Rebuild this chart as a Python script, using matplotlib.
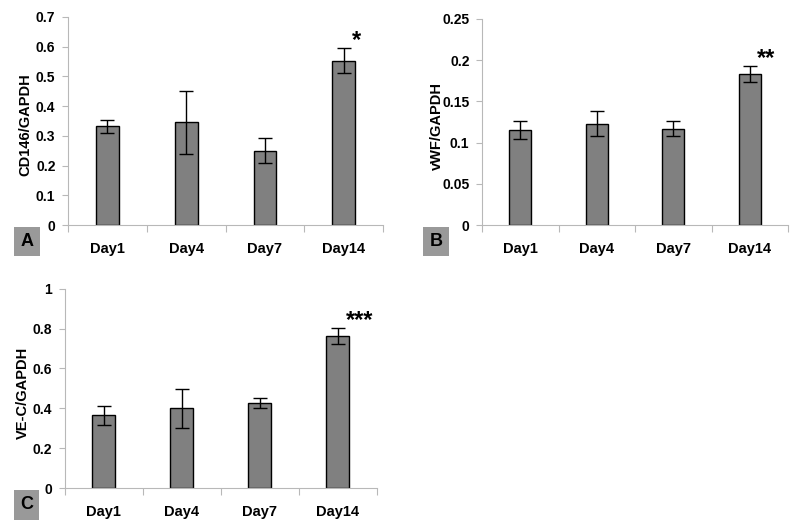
import matplotlib
matplotlib.use("Agg")
import matplotlib.pyplot as plt
import numpy as np

days = ["Day1", "Day4", "Day7", "Day14"]

cd146 = [0.332, 0.345, 0.250, 0.553]
cd146_err = [0.022, 0.105, 0.042, 0.043]

vwf = [0.115, 0.123, 0.117, 0.183]
vwf_err = [0.011, 0.015, 0.0095, 0.010]

vec = [0.365, 0.400, 0.426, 0.765]
vec_err = [0.047, 0.097, 0.026, 0.040]

stars = ["*", "**", "***"]
panel_letters = ["A", "B", "C"]
ylabels = ["CD146/GAPDH", "vWF/GAPDH", "VE-C/GAPDH"]

plt.rcParams['font.family'] = ['Liberation Sans', 'DejaVu Sans']
plt.rcParams['font.weight'] = 'bold'

fig = plt.figure(figsize=(8, 5.27), dpi=100)

specs = [
    dict(rect=[0.085, 0.573, 0.394, 0.395], vals=cd146, err=cd146_err, ymax=0.7, step=0.1,
         labx=-0.114, letter_xy=(0.0335, 0.542)),
    dict(rect=[0.6025, 0.573, 0.3825, 0.391], vals=vwf, err=vwf_err, ymax=0.25, step=0.05,
         labx=-0.125, letter_xy=(0.545, 0.542)),
    dict(rect=[0.081, 0.074, 0.39, 0.378], vals=vec, err=vec_err, ymax=1.0, step=0.2,
         labx=-0.112, letter_xy=(0.033, 0.042)),
]

gridc = "#b8b8b8"
for i, s in enumerate(specs):
    ax = fig.add_axes(s["rect"])
    x = np.arange(len(days))
    ax.bar(x, s["vals"], width=0.29, color="#808080", edgecolor="black", linewidth=1.0, zorder=2)
    ax.errorbar(x, s["vals"], yerr=s["err"], fmt="none", ecolor="black", elinewidth=1.0,
                capsize=5, capthick=1.0, zorder=3)
    ax.set_xlim(-0.5, 3.5)
    ax.set_ylim(0, s["ymax"])
    ticks = np.round(np.arange(0, s["ymax"] + s["step"] / 2, s["step"]), 4)
    ax.set_yticks(ticks)
    ax.set_yticklabels([f"{t:g}" for t in ticks], fontsize=10, fontweight="bold")
    ax.set_xticks(x)
    ax.set_xticklabels(days, fontsize=10.5, fontweight="bold")
    ax.set_xticks(np.arange(-0.5, 4.0, 1.0), minor=True)
    ax.tick_params(axis="x", which="major", length=0, pad=12)
    ax.tick_params(axis="x", which="minor", length=5, color=gridc, width=0.8)
    ax.tick_params(axis="y", length=4, color=gridc, width=0.8, pad=5)
    for sp in ["top", "right"]:
        ax.spines[sp].set_visible(False)
    for sp in ["left", "bottom"]:
        ax.spines[sp].set_color(gridc)
        ax.spines[sp].set_linewidth(0.8)
    ax.set_ylabel(ylabels[i], fontsize=10.5, fontweight="bold")
    ax.yaxis.set_label_coords(s["labx"], 0.48)
    top = s["vals"][3] + s["err"][3]
    ax.annotate(stars[i], xy=(3.1, top), xytext=(0, 5), textcoords="offset points",
                fontsize=17, fontweight="bold", ha="left", va="center")
    fig.text(s["letter_xy"][0], s["letter_xy"][1], panel_letters[i], fontsize=13, fontweight="bold",
             ha="center", va="center",
             bbox=dict(boxstyle="square,pad=0.35", facecolor="#999999", edgecolor="none"))

fig.savefig("out.png", dpi=100)
